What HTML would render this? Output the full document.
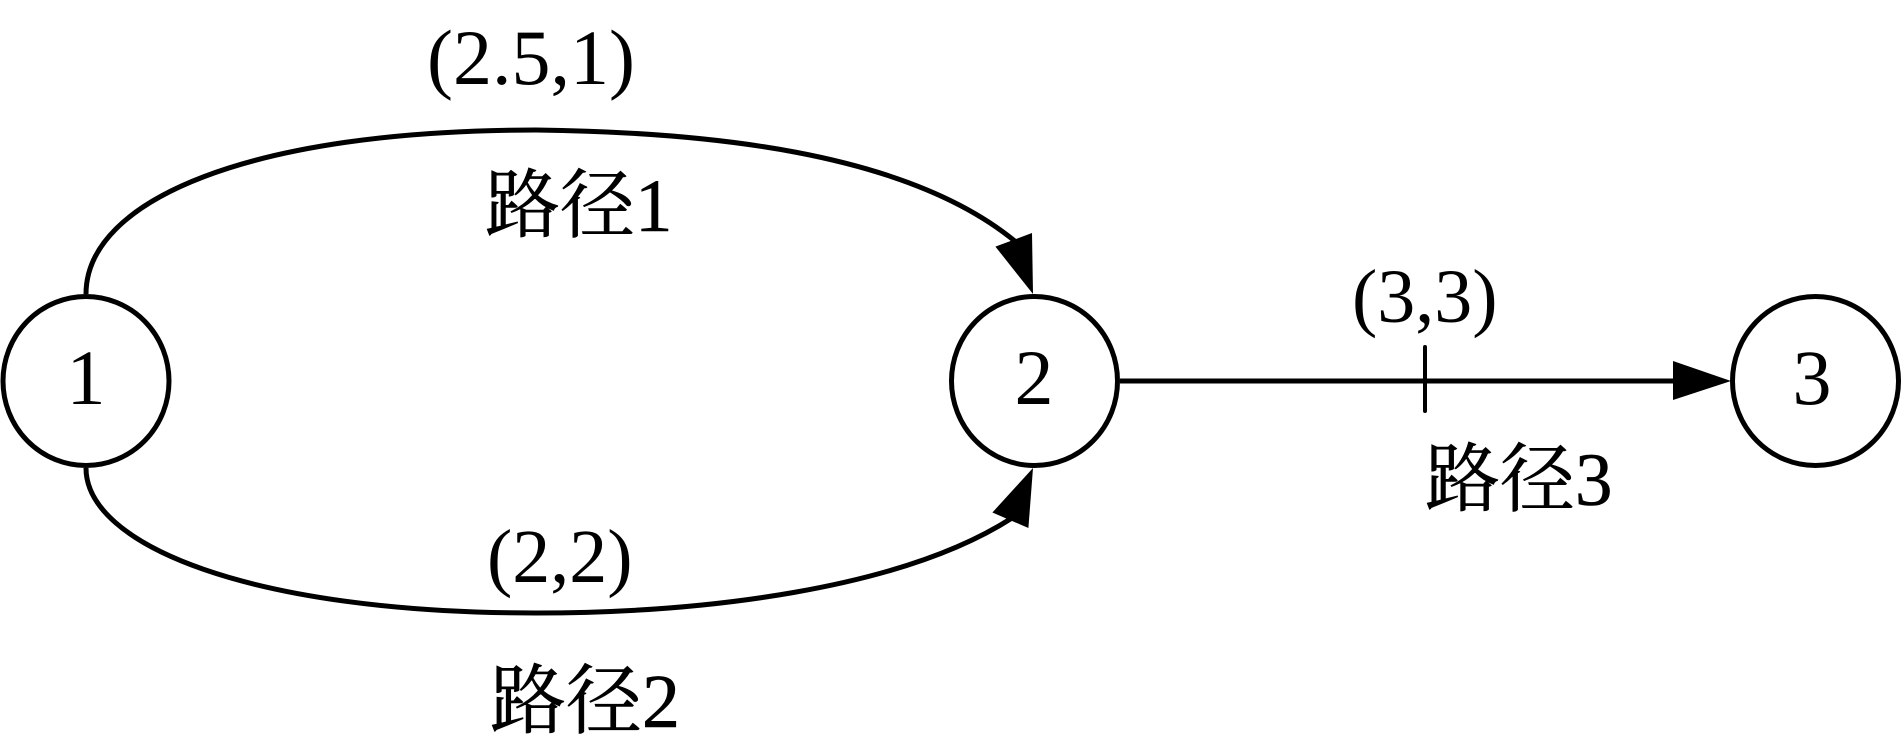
<!DOCTYPE html>
<html>
<head>
<meta charset="utf-8">
<style>
html,body{margin:0;padding:0;background:#fff;width:1902px;height:751px;overflow:hidden}
svg{display:block}
text{font-family:"Liberation Serif","Noto Serif CJK SC",serif;font-size:76px;fill:#000}
.d{font-size:78px}
.c{stroke:#000;stroke-width:.6px}
</style>
</head>
<body>
<svg width="1902" height="751" viewBox="0 0 1902 751" xmlns="http://www.w3.org/2000/svg">
<rect width="1902" height="751" fill="#fff"/>
<g fill="none" stroke="#000" stroke-width="5">
<ellipse cx="86" cy="381" rx="83" ry="84.5"/>
<ellipse cx="1034.5" cy="381" rx="83" ry="84.5"/>
<ellipse cx="1815.5" cy="381" rx="83" ry="84.5"/>
<path d="M86 294C86 200 250 130 536 130C700 132 905 150 1016 242"/>
<path d="M86 468C86 545 250 613 536 613C700 613 900 590 1012 518"/>
<path d="M1120 381H1680"/>
<path d="M1425 347V411" stroke-width="4" stroke-linecap="round"/>
</g>
<polygon points="1033,294 995.4,246.6 1032,233"/>
<polygon points="1033,468 992.4,512.5 1028.4,528"/>
<polygon points="1731,381 1673,361 1673,400"/>
<text class="d" x="427" y="84">(2.5,1)</text>
<text class="c" x="485" y="231" style="font-size:75px">路径1</text>
<text x="487" y="582">(2,2)</text>
<text class="c" x="490" y="727">路径2</text>
<text x="1352" y="322">(3,3)</text>
<text class="c" x="1425" y="505" style="font-size:75px">路径3</text>
<text class="d" x="86" y="404" text-anchor="middle">1</text>
<text class="d" x="1034" y="404" text-anchor="middle">2</text>
<text class="d" x="1812" y="404" text-anchor="middle">3</text>
</svg>
</body>
</html>
